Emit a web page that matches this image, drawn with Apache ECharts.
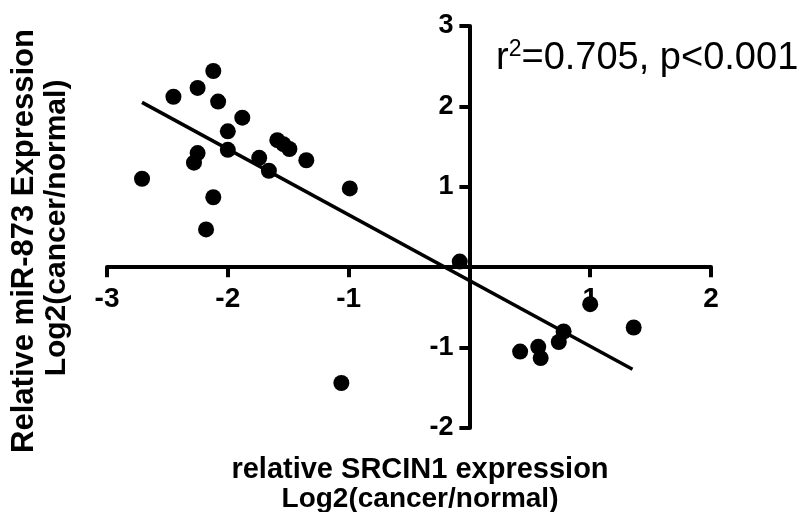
<!DOCTYPE html>
<html>
<head>
<meta charset="utf-8">
<script src="https://cdn.jsdelivr.net/npm/echarts@6/dist/echarts.min.js"></script>
<style>
  html, body { margin: 0; padding: 0; background: #fff; }
  #chart { width: 805px; height: 512px; }
</style>
</head>
<body>
<div id="chart"></div>
<script>
// log2 fold change, SRCIN1 (x) vs miR-873 (y)
var xValues = [-2.12, -2.25, -2.45, -2.08, -1.88, -2.00, -2.00, -1.59, -1.54, -1.49,
               -1.35, -1.74, -1.66, -2.25, -2.28, -2.71, -2.12, -2.18, -0.99,
               -0.08, -1.06, 1.00, 1.36, 0.42, 0.57, 0.59, 0.78, 0.74];
var yValues = [2.44, 2.23, 2.12, 2.06, 1.86, 1.69, 1.46, 1.58, 1.53, 1.47,
               1.33, 1.36, 1.20, 1.42, 1.30, 1.10, 0.87, 0.47, 0.98,
               0.07, -1.44, -0.46, -0.75, -1.05, -0.99, -1.13, -0.80, -0.93];
// fitted line ends
var fitX = [-2.71, 1.35];
var fitY = [2.05, -1.27];
var xTicks = [-3, -2, -1, 0, 1, 2];
var yTicks = [-2, -1, 0, 1, 2, 3];

var points = xValues.map(function (x, i) { return [x, yValues[i]]; });
var fitLine = fitX.map(function (x, i) { return [x, fitY[i]]; });

var font = 'Arial, "Liberation Sans", sans-serif';
var W = 805, H = 512;
var grid = { left: 107, right: 94, top: 26, bottom: 84 };

// the axes cross at 0: shift them from the grid edges to the zero lines
var xMin = xTicks[0], xMax = xTicks[xTicks.length - 1];
var yMin = yTicks[0], yMax = yTicks[yTicks.length - 1];
var gw = W - grid.left - grid.right, gh = H - grid.top - grid.bottom;
var xAxisOffset = -gh * (0 - yMin) / (yMax - yMin);
var yAxisOffset = -gw * (0 - xMin) / (xMax - xMin);

function noZero(v) { return v === 0 ? '' : String(v); }

var chart = echarts.init(document.getElementById('chart'));
chart.setOption({
    backgroundColor: '#fff',
    animation: false,
    grid: grid,
    xAxis: {
        type: 'value',
        min: xMin, max: xMax, interval: 1,
        offset: xAxisOffset,
        splitLine: { show: false },
        axisLine: { onZero: false, lineStyle: { color: '#000', width: 4 } },
        axisTick: { show: true, length: 10, lineStyle: { color: '#000', width: 4 } },
        axisLabel: {
            margin: 18, color: '#000', fontSize: 28, fontWeight: 'bold', fontFamily: font,
            formatter: noZero
        }
    },
    yAxis: {
        type: 'value',
        min: yMin, max: yMax, interval: 1,
        offset: yAxisOffset,
        splitLine: { show: false },
        axisLine: { onZero: false, lineStyle: { color: '#000', width: 4 } },
        axisTick: { show: true, length: 10, lineStyle: { color: '#000', width: 4 } },
        axisLabel: {
            margin: 16, color: '#000', fontSize: 27, fontWeight: 'bold', fontFamily: font,
            formatter: noZero
        }
    },
    series: [
        {
            type: 'scatter',
            data: points,
            symbolSize: 16,
            itemStyle: { color: '#000', opacity: 1 },
            z: 3
        },
        {
            type: 'line',
            data: fitLine,
            showSymbol: false,
            symbol: 'none',
            lineStyle: { color: '#000', width: 3.5 },
            z: 4
        }
    ],
    graphic: [
        {
            type: 'text', left: 496, top: 38,
            style: {
                text: '{a|r}{s|2}{a|=0.705, p<0.001}',
                fill: '#000',
                rich: {
                    a: { fontSize: 38, fontFamily: font, fill: '#000' },
                    s: { fontSize: 23, fontFamily: font, fill: '#000', padding: [0, 0, 19, 0] }
                }
            }
        },
        {
            type: 'text', x: 24, y: 241, rotation: Math.PI / 2,
            style: {
                text: 'Relative miR-873 Expression', fill: '#000',
                font: 'bold 31px ' + font, align: 'center', verticalAlign: 'middle'
            }
        },
        {
            type: 'text', x: 57, y: 228, rotation: Math.PI / 2,
            style: {
                text: 'Log2(cancer/normal)', fill: '#000',
                font: 'bold 30px ' + font, align: 'center', verticalAlign: 'middle'
            }
        },
        {
            type: 'text', x: 420, y: 470,
            style: {
                text: 'relative SRCIN1 expression', fill: '#000',
                font: 'bold 29px ' + font, align: 'center', verticalAlign: 'middle'
            }
        },
        {
            type: 'text', x: 420, y: 499,
            style: {
                text: 'Log2(cancer/normal)', fill: '#000',
                font: 'bold 28px ' + font, align: 'center', verticalAlign: 'middle'
            }
        }
    ]
});
</script>
</body>
</html>
